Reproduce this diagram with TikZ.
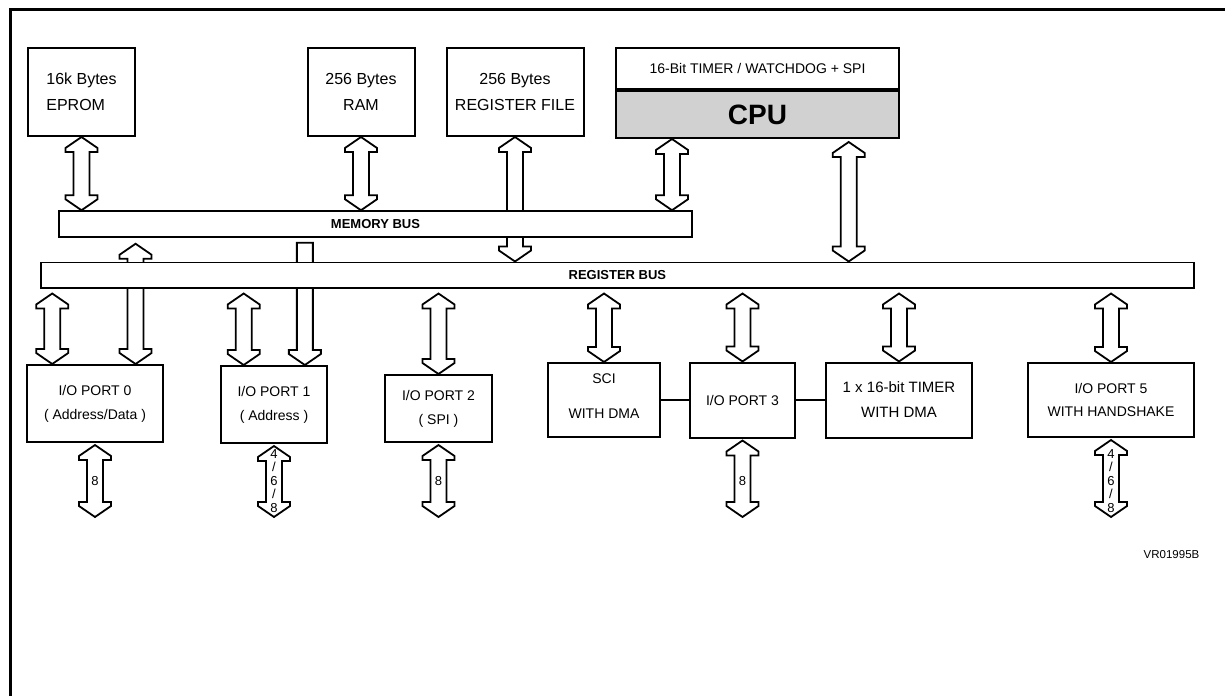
\documentclass[tikz,border=0pt]{standalone}
\usepackage{fontspec}
\setmainfont{Liberation Sans}
\usetikzlibrary{positioning,calc,backgrounds}

% hollow bus arrows: #2 upper end, #3 lower end, optional gap below #2
\newcommand{\busarrow}[3][0]{%
	\draw[hollow] let \p1=($#2+(0,#1)$), \p2=#3 in
		(\x1,\y1)--(\x1+16pt,\y1-11pt)--(\x1+16pt,\y1-15pt)--(\x1+8pt,\y1-15pt)
		--(\x1+8pt,\y2+15pt)--(\x1+16pt,\y2+15pt)--(\x1+16pt,\y2+11pt)--(\x1,\y2)
		--(\x1-16pt,\y2+11pt)--(\x1-16pt,\y2+15pt)--(\x1-8pt,\y2+15pt)
		--(\x1-8pt,\y1-15pt)--(\x1-16pt,\y1-15pt)--(\x1-16pt,\y1-11pt)--cycle;}
\newcommand{\busfeed}[3][0]{%
	\draw[hollow] let \p1=($#2+(0,#1)$), \p2=#3 in
		(\x1-8pt,\y1)--(\x1+8pt,\y1)
		--(\x1+8pt,\y2+15pt)--(\x1+16pt,\y2+15pt)--(\x1+16pt,\y2+11pt)--(\x1,\y2)
		--(\x1-16pt,\y2+11pt)--(\x1-16pt,\y2+15pt)--(\x1-8pt,\y2+15pt)--cycle;}

\begin{document}
\begin{tikzpicture}[x=1pt,y=-1pt,
	box/.style={draw,line width=2pt,inner sep=0pt,align=center,font=\fontsize{16}{26}\selectfont},
	port/.style={draw,line width=2pt,inner sep=0pt,align=center,font=\fontsize{14}{24}\selectfont},
	bus/.style={draw,line width=1.5pt,fill=white,inner sep=0pt,font=\fontsize{13}{13}\selectfont\bfseries},
	hollow/.style={draw,line width=1.8pt,fill=white,line join=miter},
	wires/.style={inner sep=0pt,align=center,font=\fontsize{13}{13.5}\selectfont}]
	\useasboundingbox (0,0) rectangle (1225,696);
	\draw[line width=3pt] (1225,9)--(10,9)--(10,696);
	% memories and cpu
	\node[box,align=left,minimum width=107,minimum height=88] (eprom) at (81.5,92) {16k Bytes\\EPROM};
	\node[box,minimum width=107,minimum height=88] (ram) at (361,92) {256 Bytes\\RAM};
	\node[box,minimum width=137,minimum height=88] (regfile) at (515,92) {256 Bytes\\REGISTER FILE};
	\node[box,minimum width=283,minimum height=41,font=\fontsize{14}{14}\selectfont] (wdog) at (757.5,68.5) {16-Bit TIMER / WATCHDOG + SPI};
	\node[box,fill=black!18,minimum width=283,minimum height=47,font=\fontsize{28}{28}\selectfont\bfseries,below=0pt of wdog] (cpu) {CPU};
	% buses
	\node[bus,minimum width=633,minimum height=26] (membus) at (375.5,224) {MEMORY BUS};
	\node[bus,minimum width=1153,minimum height=25.5] (regbus) at (617.4,275) {REGISTER BUS};
	% peripherals
	\node[port,minimum width=136,minimum height=77] (port0) at (95,403.5) {I/O PORT 0\\( Address/Data )};
	\node[port,minimum width=105.5,minimum height=77] (port1) at (274,404.5) {I/O PORT 1\\( Address )};
	\node[port,minimum width=107,minimum height=67] (port2) at (438.5,408.5) {I/O PORT 2\\( SPI )};
	\node[port,minimum width=112,minimum height=74] (sci) at (604,400) {SCI\\[11pt]WITH DMA\\[-16pt]};
	\node[port,minimum width=105,minimum height=75,right=28pt of sci] (port3) {I/O PORT 3};
	\node[port,minimum width=146,minimum height=75,font=\fontsize{15}{25}\selectfont,right=29pt of port3] (timer) {1 x 16-bit TIMER\\WITH DMA};
	\node[port,minimum width=166,minimum height=74,font=\fontsize{14}{23}\selectfont] (port5) at (1111,400) {I/O PORT 5\\WITH HANDSHAKE};
	\draw[line width=1.5pt] (sci)--(port3) (port3)--(timer);
	\node[font=\fontsize{11.5}{11.5}\selectfont,inner sep=0pt] (ref) at (1171.5,555) {VR01995B};
	\coordinate (cpuL) at ($(cpu.south west)!0.2!(cpu.south east)$);
	\coordinate (cpuR) at ($(cpu.south west)!0.82!(cpu.south east)$);
	\coordinate (p0a) at ($(port0.north west)!0.19!(port0.north east)$);
	\coordinate (p0b) at ($(port0.north west)!0.794!(port0.north east)$);
	\coordinate (p1a) at ($(port1.north west)!0.218!(port1.north east)$);
	\coordinate (p1b) at ($(port1.north west)!0.787!(port1.north east)$);
	\begin{pgfonlayer}{background}
		\busarrow{(eprom.south)}{(eprom.south |- membus.north)}
		\busarrow{(ram.south)}{(ram.south |- membus.north)}
		\busarrow{(regfile.south)}{(regfile.south |- regbus.north)}
		\busarrow{(cpuL)}{(cpuL |- membus.north)}
		\busarrow[3]{(cpuR)}{(cpuR |- regbus.north)}
		\busarrow[5]{(p0a |- regbus.south)}{(p0a)}
		\busarrow[6]{(p0b |- membus.south)}{(p0b)}
		\busarrow[5]{(p1a |- regbus.south)}{(p1a)}
		\busfeed[5]{(p1b |- membus.south)}{(p1b)}
		\foreach \nd in {port2,sci,port3,timer,port5}
			\busarrow[5]{(\nd.north |- regbus.south)}{(\nd.north)};
		% external pins
		\foreach \nd/\w in {port0/8,port1/{4\\/\\6\\/\\8},port2/8,port3/8,port5/{4\\/\\6\\/\\8}}{
			\coordinate (\nd-out) at (\nd.south |- 0,517);
			\busarrow[2]{(\nd.south)}{(\nd-out)}
			\node[wires] (\nd-w) at ($(\nd.south |- 0,445)!0.5!(\nd-out)$) {\w};
		}
	\end{pgfonlayer}
\end{tikzpicture}
\end{document}
